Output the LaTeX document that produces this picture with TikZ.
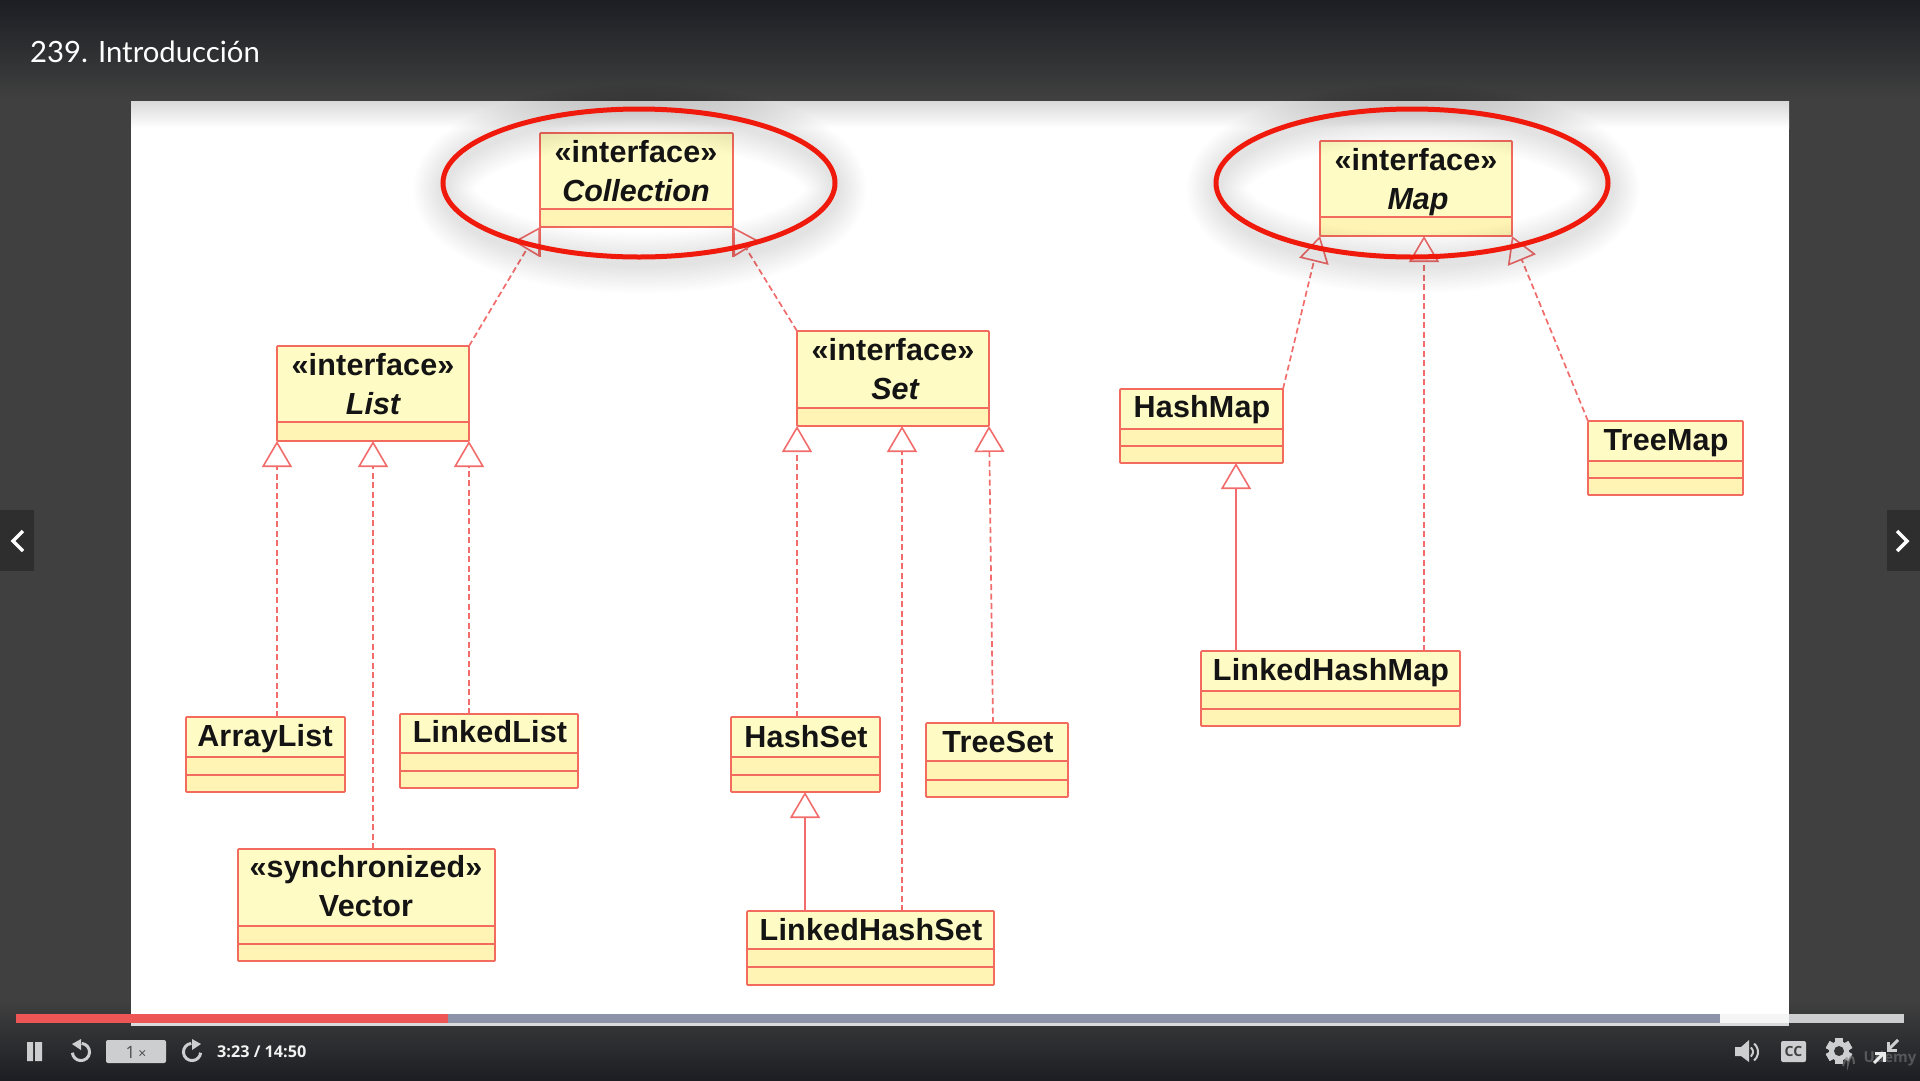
\documentclass[tikz,border=0pt]{standalone}
\usepackage{fontspec}
\setmainfont{Liberation Sans}
\newfontfamily\titlefont{Lato}
\newfontfamily\uifont{Open Sans}
\usetikzlibrary{arrows.meta,shadings,fadings}
\definecolor{umlline}{HTML}{F36A5F}
\definecolor{umltop}{HTML}{FFFBC4}
\definecolor{umlfill}{HTML}{FFF4B4}
\definecolor{deppen}{HTML}{F26C6C}
\definecolor{ringred}{HTML}{F01A0C}
\definecolor{bgmid}{HTML}{404040}
\definecolor{bgdark}{HTML}{1C1E23}
\definecolor{uigray}{HTML}{CDCED0}
\definecolor{progblue}{HTML}{8C93A8}
\definecolor{progred}{HTML}{EE5555}
\tikzset{
  umlbody/.style={draw=umlline,line width=1.8pt,rounded corners=1pt,fill=umlfill,inner sep=0pt,outer sep=0pt,anchor=north west},
  umlrule/.style={umlline,line width=1.5pt},
  umltext/.style={inner sep=0pt,yshift=-1.2pt,text=black!92,font=\fontsize{30.5}{36}\bfseries\addfontfeatures{LetterSpace=0.6},align=center,text height=23pt,text depth=6pt},
  umlital/.style={inner sep=0pt,yshift=-1.2pt,text=black!92,font=\fontsize{30.5}{36}\bfseries\itshape,align=center,text height=23pt,text depth=6pt},
  dep/.style={draw=deppen,line width=1.7pt,dash pattern=on 6pt off 3.5pt,-{Triangle[open,length=26pt,width=30pt,fill=white,line width=1.6pt]}},
  gen/.style={draw=deppen,line width=2.2pt,-{Triangle[open,length=26pt,width=30pt,fill=white,line width=1.6pt]}},
  ring/.style={draw=ringred,line width=5pt},
  icon/.style={draw=uigray,line width=3pt},
  iconf/.style={fill=uigray},
}
% name, x1, y1, x2, y2, rule1, rule2
\newcommand{\umlbox}[7]{%
  \node[umlbody,minimum width=#4pt-#2pt,minimum height=#5pt-#3pt] (#1) at (#2,#3) {};
  \fill[umltop] (#2+1,#3+1) rectangle (#4-1,#6);
  \draw[umlrule] (#2,#6) -- (#4,#6);
  \ifx&#7&\else\draw[umlrule] (#2,#7) -- (#4,#7);\fi
}
\begin{document}
\begin{tikzpicture}[x=1pt,y=-1pt]
\useasboundingbox (0,0) rectangle (1920,1080);
% player background
\fill[bgmid] (0,0) rectangle (1920,1080);
\shade[top color=bgdark,bottom color=bgmid] (0,0) rectangle (1920,100);
\shade[top color=bgmid,bottom color=bgdark] (0,1000) rectangle (1920,1080);
% slide
\fill[white] (131,101) rectangle (1789,1023);
\shade[top color=black!15,bottom color=white] (131,101) rectangle (1789,128);
\fill[black!14] (131,1023) rectangle (1789,1026);
\node[anchor=west,inner sep=0pt,text=white,font=\titlefont\fontsize{29.3}{34}\selectfont] (title) at (30,52) {239. Introducción};
% side buttons
\fill[black!82] (0,510) rectangle (34,571);
\fill[black!82] (1887,510) rectangle (1920,571);
\draw[white,line width=3.5pt] (23,531) -- (13,541) -- (23,551);
\draw[white,line width=3.5pt] (1897,531) -- (1907,541) -- (1897,551);

% boxes
\fill[white] (540,227) rectangle (733,257);
\draw[umlrule] (540,227) -- (540,257) (733,227) -- (733,257);
\umlbox{coll}{540}{133}{733}{227}{209}{}
\umlbox{map}{1320}{141}{1512}{236}{217}{}
\umlbox{list}{277}{346}{469}{441}{422}{}
\umlbox{set}{797}{331}{989}{426}{408}{}
\umlbox{arraylist}{186}{717}{345}{792}{757}{775}
\umlbox{linkedlist}{400}{714}{578}{788}{753}{771}
\umlbox{vector}{238}{849}{495}{961}{926}{944}
\umlbox{hashset}{731}{717}{880}{792}{757}{775}
\umlbox{treeset}{926}{723}{1068}{797}{761}{780}
\umlbox{linkedhashset}{747}{911}{994}{985}{949}{967}
\umlbox{hashmap}{1120}{389}{1283}{463}{429}{446}
\umlbox{treemap}{1588}{421}{1743}{495}{461}{478}
\umlbox{linkedhashmap}{1201}{651}{1460}{726}{691}{709}

% labels
\node[umltext] (tcoll1) at (636,153) {«interface»};
\node[umlital] (tcoll2) at (636,192) {Collection};
\node[umltext] (tmap1) at (1416,161) {«interface»};
\node[umlital] (tmap2) at (1418,200) {Map};
\node[umltext] (tlist1) at (373,366) {«interface»};
\node[umlital] (tlist2) at (373,405) {List};
\node[umltext] (tset1) at (893,351) {«interface»};
\node[umlital] (tset2) at (895,390) {Set};
\node[umltext] (tarr) at (265,737) {ArrayList};
\node[umltext] (tll) at (490,733) {LinkedList};
\node[umltext] (tv1) at (366,868) {«synchronized»};
\node[umltext] (tv2) at (366,907) {Vector};
\node[umltext] (ths) at (806,738) {HashSet};
\node[umltext] (tts) at (998,743) {TreeSet};
\node[umltext] (tlhs) at (871,931) {LinkedHashSet};
\node[umltext] (thm) at (1202,408) {HashMap};
\node[umltext] (ttm) at (1666,441) {TreeMap};
\node[umltext] (tlhm) at (1331,671) {LinkedHashMap};

% connectors
\coordinate (setmid) at (902,426);
\coordinate (settree) at (993,723);
\coordinate (maphm) at (1236,463);
\coordinate (mapmid) at (1424,236);
\coordinate (hslhs) at (805,792);
\draw[dep] (list.south west |- arraylist.north) -- (list.south west);
\draw[dep] (list.south |- vector.north) -- (list.south);
\draw[dep] (list.south east |- linkedlist.north) -- (list.south east);
\draw[dep] (set.south west |- hashset.north) -- (set.south west);
\draw[dep] (setmid |- linkedhashset.north) -- (setmid);
\draw[dep] (settree) -- (set.south east);
\draw[gen] (hslhs |- linkedhashset.north) -- (hslhs);
\draw[gen] (maphm |- linkedhashmap.north) -- (maphm);
\draw[dep] (mapmid |- linkedhashmap.north) -- (mapmid);
\draw[dep] (hashmap.north east) -- (map.south west);
\draw[dep] (treemap.north west) -- (map.south east);
\draw[dep] (list.north east) -- (coll.south west);
\draw[dep] (set.north west) -- (coll.south east);

% red rings with soft shadow
\foreach \i in {1,...,14}{
  \draw[black,opacity=.007,line width={5+4*\i}] (640,189) ellipse [x radius=196pt,y radius=74pt];
  \draw[black,opacity=.007,line width={5+4*\i}] (1413,189) ellipse [x radius=196pt,y radius=74pt];
}
\draw[ring] (639,183) ellipse [x radius=196pt,y radius=74pt];
\draw[ring] (1412,183) ellipse [x radius=196pt,y radius=74pt];

% progress bar
\fill[uigray] (1789,1014) rectangle (1904,1023);
\fill[white!96!black] (1720,1014) rectangle (1789,1023);
\fill[progblue] (448,1014) rectangle (1720,1023);
\fill[progred] (16,1014) rectangle (448,1023);

% left controls
\fill[iconf] (27,1042) rectangle (33,1061) (35,1042) rectangle (42,1061);
\draw[icon] (81.7,1043.4) arc[start angle=-85,end angle=175,radius=8.6];
\fill[iconf] (81,1039) -- (81,1050) -- (72,1044) -- cycle;
\draw[icon] (191.3,1043.4) arc[start angle=-95,end angle=-355,radius=8.6];
\fill[iconf] (192,1039) -- (192,1050) -- (201,1044) -- cycle;
\fill[iconf,rounded corners=2pt] (106,1040) rectangle (166,1063);
\node[inner sep=0pt,text=black!70,font=\uifont\fontsize{17}{18}\selectfont] (speed) at (136,1052) {1\,{\fontsize{14}{14}\selectfont ×}};
\node[anchor=west,inner sep=0pt,text=white!95!black,font=\uifont\fontsize{16.2}{18}\bfseries\selectfont] (time) at (217,1052) {3:23 / 14:50};

% right controls
\fill[iconf] (1735,1047) -- (1741,1047) -- (1749,1040) -- (1749,1062) -- (1741,1056) -- (1735,1056) -- cycle;
\draw[uigray,line width=2pt] (1750.9,1047.4) arc[start angle=-50,end angle=50,radius=6];
\draw[uigray,line width=2pt] (1754.1,1043.6) arc[start angle=-50,end angle=50,radius=11];
\fill[iconf,rounded corners=2pt] (1781,1041) rectangle (1806,1062);
\node[inner sep=0pt,text=black!75,font=\uifont\fontsize{14}{16}\bfseries\selectfont] (cc) at (1793.5,1051.5) {CC};
\foreach \a in {0,60,...,300}{
  \fill[uigray,rotate around={\a:(1839,1051)}] (1835,1038) rectangle (1843,1064);
}
\fill[uigray] (1839,1051) circle[radius=10pt];
\fill[black!80] (1839,1051) circle[radius=5pt];
\draw[black!50,opacity=.6,line width=2pt] (1843,1066) .. controls (1846,1056) and (1848,1056) .. (1848,1064) .. controls (1850,1056) and (1853,1052) .. (1854,1064);
\node[inner sep=0pt,text=white,opacity=.22,font=\uifont\fontsize{15}{16}\bfseries\selectfont] (udemy) at (1890,1059) {Udemy};
\draw[uigray,line width=3pt] (1898,1040) -- (1888,1050);
\draw[uigray,line width=3pt] (1888,1042) -- (1888,1050) -- (1897,1050);
\draw[white!92!black,line width=3pt] (1874,1063) -- (1884,1053);
\draw[white!92!black,line width=3pt] (1875,1053) -- (1884,1053) -- (1884,1062);
\end{tikzpicture}
\end{document}
